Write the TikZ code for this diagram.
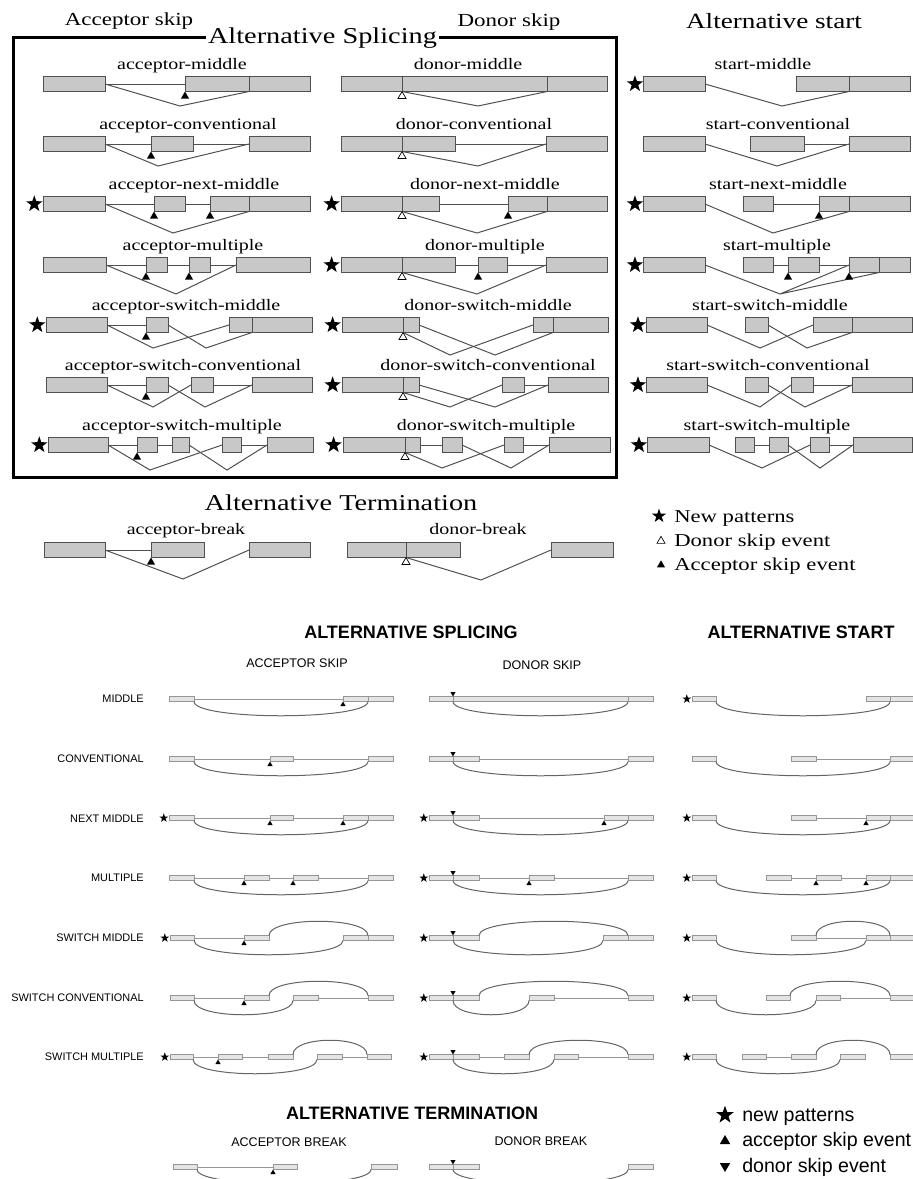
\documentclass[tikz,border=0pt]{standalone}
\usepackage{fontspec}
\setmainfont{Liberation Serif}[FakeStretch=1.25]
\newfontfamily\arial{Liberation Sans}
\usetikzlibrary{shapes.geometric,positioning}

\definecolor{exfill}{RGB}{200,200,200}
\definecolor{exline}{RGB}{80,80,80}
\definecolor{bexfill}{RGB}{228,228,228}
\definecolor{bexline}{RGB}{150,150,150}
\definecolor{barcline}{RGB}{100,100,100}

\tikzset{
  exon/.style={draw=exline, fill=exfill, line width=0.75pt, inner sep=0, outer sep=0, minimum height=11.25pt},
  bexon/.style={draw=bexline, fill=bexfill, line width=0.5pt, inner sep=0, outer sep=0, minimum height=3.75pt},
  intron/.style={draw=exline, line width=0.75pt},
  splice/.style={draw=exline, line width=0.75pt},
  bintron/.style={draw=bexline, line width=0.4pt},
  barc/.style={draw=barcline, line width=0.75pt},
  acc/.style={regular polygon, regular polygon sides=3, fill=black, inner sep=0, outer sep=0, minimum size=7pt, anchor=corner 1},
  don/.style={acc, fill=white, draw=black, line width=0.5pt},
  bacc/.style={acc, minimum size=4.5pt},
  bdon/.style={acc, minimum size=4.5pt, shape border rotate=180},
  newpat/.style={star, star points=5, star point ratio=2.5, fill=black, inner sep=0, outer sep=0, minimum size=13pt},
  bnewpat/.style={newpat, minimum size=7pt},
  boxline/.style={draw=black, line width=2.25pt},
  lbl/.style={font=\fontsize{12}{14}\selectfont, anchor=base, inner sep=0},
  head/.style={font=\fontsize{13.8}{16}\selectfont, anchor=base, inner sep=0},
  title/.style={font=\fontsize{17}{20}\selectfont, inner sep=0},
  leg/.style={font=\fontsize{13.6}{16}\selectfont, anchor=base west, inner sep=0},
  bhead/.style={font=\arial\bfseries\fontsize{13.5}{16}\selectfont, inner sep=0},
  bcol/.style={font=\arial\fontsize{9.4}{11}\selectfont, inner sep=0},
  browlbl/.style={font=\arial\fontsize{8.2}{10}\selectfont, anchor=east, inner sep=0},
  bleg/.style={font=\arial\fontsize{14.7}{17}\selectfont, anchor=base west, inner sep=0}
}

% a row of exons: name/left/right at height y
\newcommand{\exons}[3][exon]{%
  \foreach \nm/\xa/\xb in {#3}{%
    \node[#1, minimum width={(\xb-\xa)*0.75pt}] (\nm) at ({(\xa+\xb)/2},#2) {};}}

\begin{document}
\begin{tikzpicture}[x=0.75pt, y=-0.75pt]
\useasboundingbox (0,0) rectangle (913,1179);

% Khung Alternative Splicing
\draw[boxline] (13,37) rectangle (616,477);
\node[title, fill=white, inner xsep=1.5pt] (splicing) at (322.5,38) {Alternative Splicing};
\node[head] (accskip) at (129,25) {Acceptor skip};
\node[head] (donskip) at (509,26) {Donor skip};
\node[head, font=\fontsize{16.3}{19}\selectfont] (altstart) at (774,28) {Alternative start};

% ---- Acceptor skip ----
\node[lbl] (am) at (182,69.5) {acceptor-middle};
\exons{84}{am1/43/105, am2/185/249, am3/249/310}
\draw[intron] (am1) -- (am2);
\draw[splice] (am1.east) -- (180,106) -- (am2.south east);
\node[acc] (am-a) at (am2.south west) {};

\node[lbl] (ac) at (188,129.5) {acceptor-conventional};
\exons{144}{ac1/43/105, ac2/151/193, ac3/249/310}
\draw[intron] (ac1) -- (ac2) (ac2) -- (ac3);
\draw[splice] (ac1.east) -- (158,166) -- (ac3.west);
\node[acc] (ac-a) at (ac2.south west) {};

\node[lbl] (an) at (194,189.5) {acceptor-next-middle};
\exons{204}{an1/43/105, an2/154/185, an3/210/249, an4/249/310}
\node[newpat, left=3pt of an1] (an0) {};
\draw[intron] (an1) -- (an2) (an2) -- (an3);
\draw[splice] (an1.east) -- (173,233) -- (an3.south east);
\node[acc] (an-a1) at (an2.south west) {};
\node[acc] (an-a2) at (an3.south west) {};

\node[lbl] (au) at (193,250.5) {acceptor-multiple};
\exons{265}{au1/43/106, au2/146/167, au3/189/210, au4/236/310}
\draw[intron] (au1) -- (au2) (au2) -- (au3) (au3) -- (au4);
\draw[splice] (au1.east) -- (176,294) -- (au4.west);
\node[acc] (au-a1) at (au2.south west) {};
\node[acc] (au-a2) at (au3.south west) {};

\node[lbl] (asm) at (186,310.5) {acceptor-switch-middle};
\exons{325}{asm1/46/107, asm2/146/168, asm3/229/252, asm4/252/312}
\node[newpat, left=3pt of asm1] (asm0) {};
\draw[intron] (asm1) -- (asm2);
\draw[splice] (asm1.east) -- (153,348) -- (asm3.west);
\draw[splice] (asm2.east) -- (206,348) -- (asm3.south east);
\node[acc] (asm-a) at (asm2.south west) {};

\node[lbl] (asc) at (183,370.5) {acceptor-switch-conventional};
\exons{385}{asc1/46/107, asc2/146/168, asc3/191/213, asc4/252/312}
\draw[intron] (asc1) -- (asc2) (asc3) -- (asc4);
\draw[splice] (asc1.east) -- (153,407) -- (asc3.west);
\draw[splice] (asc2.east) -- (205,407) -- (asc4.west);
\node[acc] (asc-a) at (asc2.south west) {};

\node[lbl] (asu) at (182,430.5) {acceptor-switch-multiple};
\exons{445}{asu1/48/108, asu2/137/157, asu3/172/189, asu4/222/241, asu5/267/313}
\node[newpat, left=3pt of asu1] (asu0) {};
\draw[intron] (asu1) -- (asu2) (asu2) -- (asu3) (asu4) -- (asu5);
\draw[splice] (asu1.east) -- (150,470) -- (asu4.west);
\draw[splice] (asu3.east) -- (227,470) -- (asu5.west);
\node[acc] (asu-a) at (asu2.south west) {};

% ---- Donor skip ----
\node[lbl] (dm) at (468,69.5) {donor-middle};
\exons{84}{dm1/341/402, dm2/402/547, dm3/547/607}
\draw[splice] (dm1.south east) -- (478,106) -- (dm2.south east);
\node[don] (dm-d) at (dm1.south east) {};

\node[lbl] (dc) at (474,129.5) {donor-conventional};
\exons{144}{dc1/341/402, dc2/402/455, dc3/546/607}
\draw[intron] (dc2) -- (dc3);
\draw[splice] (dc1.south east) -- (478,166) -- (dc3.west);
\node[don] (dc-d) at (dc1.south east) {};

\node[lbl] (dn) at (485,189.5) {donor-next-middle};
\exons{204}{dn1/341/402, dn2/402/439, dn3/508/547, dn4/547/607}
\node[newpat, left=3.5pt of dn1] (dn0) {};
\draw[intron] (dn2) -- (dn3);
\draw[splice] (dn1.south east) -- (477,233) -- (dn3.south east);
\node[don] (dn-d) at (dn1.south east) {};
\node[acc] (dn-a) at (dn3.south west) {};

\node[lbl] (du) at (485,250.5) {donor-multiple};
\exons{265}{du1/341/402, du2/402/455, du3/478/507, du4/546/607}
\node[newpat, left=3.5pt of du1] (du0) {};
\draw[intron] (du2) -- (du3) (du3) -- (du4);
\draw[splice] (du1.south east) -- (477,294) -- (du4.west);
\node[don] (du-d) at (du1.south east) {};
\node[acc] (du-a) at (du3.south west) {};

\node[lbl] (dsm) at (488,310.5) {donor-switch-middle};
\exons{325}{dsm1/342/403, dsm2/403/419, dsm3/533/553, dsm4/553/608}
\node[newpat, left=3.5pt of dsm1] (dsm0) {};
\draw[splice] (dsm1.south east) -- (450,355) -- (dsm3.west);
\draw[splice] (dsm2.east) -- (495,355) -- (dsm3.south east);
\node[don] (dsm-d) at (dsm1.south east) {};

\node[lbl] (dsc) at (488,370.5) {donor-switch-conventional};
\exons{385}{dsc1/342/403, dsc2/403/419, dsc3/502/524, dsc4/548/608}
\node[newpat, left=3.5pt of dsc1] (dsc0) {};
\draw[intron] (dsc3) -- (dsc4);
\draw[splice] (dsc1.south east) -- (450,407) -- (dsc3.west);
\draw[splice] (dsc2.east) -- (495,407) -- (dsc4.west);
\node[don] (dsc-d) at (dsc1.south east) {};

\node[lbl] (dsu) at (486,430.5) {donor-switch-multiple};
\exons{445}{dsu1/343/405, dsu2/405/420, dsu3/442/462, dsu4/504/523, dsu5/549/610}
\node[newpat, left=3.5pt of dsu1] (dsu0) {};
\draw[intron] (dsu2) -- (dsu3) (dsu4) -- (dsu5);
\draw[splice] (dsu1.south east) -- (442,468) -- (dsu4.west);
\draw[splice] (dsu3.east) -- (511,468) -- (dsu5.west);
\node[don] (dsu-d) at (dsu1.south east) {};

% ---- Alternative start ----
\node[lbl] (sm) at (763,69.5) {start-middle};
\exons{84}{sm1/643/705, sm2/796/849, sm3/849/910}
\node[newpat, left=2.5pt of sm1] (sm0) {};
\draw[splice] (sm1.east) -- (782,106) -- (sm2.south east);

\node[lbl] (sc) at (778,129.5) {start-conventional};
\exons{144}{sc1/643/705, sc2/750/804, sc3/849/910}
\draw[intron] (sc2) -- (sc3);
\draw[splice] (sc1.east) -- (777,166) -- (sc3.west);

\node[lbl] (sn) at (778,189.5) {start-next-middle};
\exons{204}{sn1/643/705, sn2/743/773, sn3/819/849, sn4/849/910}
\node[newpat, left=2.5pt of sn1] (sn0) {};
\draw[intron] (sn2) -- (sn3);
\draw[splice] (sn1.east) -- (773,233) -- (sn3.south east);
\node[acc] (sn-a) at (sn3.south west) {};

\node[lbl] (su) at (777,250.5) {start-multiple};
\exons{265}{su1/643/705, su2/743/773, su3/788/819, su4/849/879, su5/879/910}
\node[newpat, left=2.5pt of su1] (su0) {};
\draw[intron] (su2) -- (su3) (su3) -- (su4);
\coordinate (su-v) at (780,294);
\draw[splice] (su1.east) -- (su-v) -- (su4.west) (su-v) -- (su4.south east);
\node[acc] (su-a1) at (su3.south west) {};
\node[acc] (su-a2) at (su4.south west) {};

\node[lbl] (ssm) at (770,310.5) {start-switch-middle};
\exons{325}{ssm1/646/707, ssm2/745/768, ssm3/813/852, ssm4/852/912}
\node[newpat, left=2.5pt of ssm1] (ssm0) {};
\draw[splice] (ssm1.east) -- (760,348) -- (ssm3.west);
\draw[splice] (ssm2.east) -- (807,348) -- (ssm3.south east);

\node[lbl] (ssc) at (768,370.5) {start-switch-conventional};
\exons{385}{ssc1/646/707, ssc2/745/768, ssc3/791/813, ssc4/852/912}
\node[newpat, left=2.5pt of ssc1] (ssc0) {};
\draw[intron] (ssc3) -- (ssc4);
\draw[splice] (ssc1.east) -- (760,407) -- (ssc3.west);
\draw[splice] (ssc2.east) -- (805,407) -- (ssc4.west);

\node[lbl] (ssu) at (767,430.5) {start-switch-multiple};
\exons{445}{ssu1/647/709, ssu2/735/754, ssu3/769/788, ssu4/810/829, ssu5/853/912}
\node[newpat, left=2.5pt of ssu1] (ssu0) {};
\draw[intron] (ssu2) -- (ssu3) (ssu4) -- (ssu5);
\draw[splice] (ssu1.east) -- (762,468) -- (ssu4.west);
\draw[splice] (ssu3.east) -- (820,468) -- (ssu5.west);

% ---- Alternative Termination ----
\node[title, anchor=base] (term) at (341,510) {Alternative Termination};
\node[lbl] (ab) at (186,534) {acceptor-break};
\exons{550}{ab1/44/105, ab2/151/204, ab3/249/310}
\draw[intron] (ab1) -- (ab2);
\draw[splice] (ab1.east) -- (183,579) -- (ab3.west);
\node[acc] (ab-a) at (ab2.south west) {};
\node[lbl] (db) at (478,534) {donor-break};
\exons{550}{db1/347/406, db2/406/460, db3/551/613}
\draw[splice] (db1.south east) -- (481,580) -- (db3.west);
\node[don] (db-d) at (db1.south east) {};

% Chu thich
\node[newpat, minimum size=11pt] (lg1) at (659,516) {};
\node[leg] (lgt1) at (674,522) {New patterns};
\node[don, anchor=center] (lg2) at (661,541) {};
\node[leg] (lgt2) at (674,546) {Donor skip event};
\node[acc, anchor=center] (lg3) at (661,565) {};
\node[leg] (lgt3) at (674,570) {Acceptor skip event};

% ======== lower figure ========
\node[bhead] (bsplice) at (411,632) {ALTERNATIVE SPLICING};
\node[bhead] (bstart) at (801,632) {ALTERNATIVE START};
\node[bcol] (baskip) at (297,663) {ACCEPTOR SKIP};
\node[bcol] (bdskip) at (542,665) {DONOR SKIP};
\foreach \t [count=\i] in {MIDDLE,CONVENTIONAL,NEXT MIDDLE,MULTIPLE,SWITCH MIDDLE,SWITCH CONVENTIONAL,SWITCH MULTIPLE}
  \node[browlbl] (brow\i) at (144,{699+59.7*(\i-1)}) {\t};

% acceptor skip
\exons[bexon]{699}{bam1/169/194, bam2/343/368, bam3/368/393}
\draw[bintron] (bam1) -- (bam2);
\draw[barc] (bam1.south east) .. controls +(0,19) and +(0,19) .. (bam2.south east);
\node[bacc] (bam-a) at (bam2.south west) {};

\exons[bexon]{759}{bac1/169/194, bac2/270/293, bac3/368/393}
\draw[bintron] (bac1) -- (bac2) (bac2) -- (bac3);
\draw[barc] (bac1.south east) .. controls +(0,19) and +(0,19) .. (bac3.south west);
\node[bacc] (bac-a) at (bac2.south west) {};

\exons[bexon]{818}{ban1/169/194, ban2/270/293, ban3/343/368, ban4/368/393}
\node[bnewpat, left=2pt of ban1] (ban0) {};
\draw[bintron] (ban1) -- (ban2) (ban2) -- (ban3);
\draw[barc] (ban1.south east) .. controls +(0,19) and +(0,19) .. (ban3.south east);
\node[bacc] (ban-a1) at (ban2.south west) {};
\node[bacc] (ban-a2) at (ban3.south west) {};

\exons[bexon]{878}{bau1/169/194, bau2/244/269, bau3/293/318, bau4/368/393}
\draw[bintron] (bau1) -- (bau2) (bau2) -- (bau3) (bau3) -- (bau4);
\draw[barc] (bau1.south east) .. controls +(0,19) and +(0,19) .. (bau4.south west);
\node[bacc] (bau-a1) at (bau2.south west) {};
\node[bacc] (bau-a2) at (bau3.south west) {};

\exons[bexon]{938}{basm1/170/194, basm2/244/269, basm3/343/368, basm4/368/393}
\node[bnewpat, left=2pt of basm1] (basm0) {};
\draw[bintron] (basm1) -- (basm2);
\draw[barc] (basm1.south east) .. controls +(0,19) and +(0,19) .. (basm3.south west);
\draw[barc] (basm2.north east) .. controls +(0,-19) and +(0,-19) .. (basm3.north east);
\node[bacc] (basm-a) at (basm2.south west) {};

\exons[bexon]{998}{basc1/170/194, basc2/244/269, basc3/293/318, basc4/368/393}
\draw[bintron] (basc1) -- (basc2) (basc3) -- (basc4);
\draw[barc] (basc1.south east) .. controls +(0,19) and +(0,19) .. (basc3.south west);
\draw[barc] (basc2.north east) .. controls +(0,-19) and +(0,-19) .. (basc4.north west);
\node[bacc] (basc-a) at (basc2.south west) {};

\exons[bexon]{1057}{basu1/170/193, basu2/218/242, basu3/268/293, basu4/317/342, basu5/367/391}
\node[bnewpat, left=2pt of basu1] (basu0) {};
\draw[bintron] (basu1) -- (basu2) (basu2) -- (basu3) (basu4) -- (basu5);
\draw[barc] (basu1.south east) .. controls +(0,19) and +(0,19) .. (basu4.south west);
\draw[barc] (basu3.north east) .. controls +(0,-19) and +(0,-19) .. (basu5.north west);
\node[bacc] (basu-a) at (basu2.south west) {};

% donor skip
\exons[bexon]{699}{bdm1/429/453, bdm2/453/628, bdm3/628/653}
\draw[barc] (bdm1.south east) .. controls +(0,19) and +(0,19) .. (bdm2.south east);
\node[bdon] (bdm-d) at (bdm1.north east) {};

\exons[bexon]{759}{bdc1/429/453, bdc2/453/479, bdc3/628/653}
\draw[bintron] (bdc2) -- (bdc3);
\draw[barc] (bdc1.south east) .. controls +(0,19) and +(0,19) .. (bdc3.south west);
\node[bdon] (bdc-d) at (bdc1.north east) {};

\exons[bexon]{818}{bdn1/429/453, bdn2/453/479, bdn3/604/628, bdn4/628/653}
\node[bnewpat, left=2pt of bdn1] (bdn0) {};
\draw[bintron] (bdn2) -- (bdn3);
\draw[barc] (bdn1.south east) .. controls +(0,19) and +(0,19) .. (bdn3.south east);
\node[bdon] (bdn-d) at (bdn1.north east) {};
\node[bacc] (bdn-a) at (bdn3.south west) {};

\exons[bexon]{878}{bdu1/429/453, bdu2/453/479, bdu3/529/554, bdu4/628/653}
\node[bnewpat, left=2pt of bdu1] (bdu0) {};
\draw[bintron] (bdu2) -- (bdu3) (bdu3) -- (bdu4);
\draw[barc] (bdu1.south east) .. controls +(0,19) and +(0,19) .. (bdu4.south west);
\node[bdon] (bdu-d) at (bdu1.north east) {};
\node[bacc] (bdu-a) at (bdu3.south west) {};

\exons[bexon]{938}{bdsm1/429/453, bdsm2/453/479, bdsm3/603/628, bdsm4/628/653}
\node[bnewpat, left=2pt of bdsm1] (bdsm0) {};
\draw[barc] (bdsm1.south east) .. controls +(0,19) and +(0,19) .. (bdsm3.south west);
\draw[barc] (bdsm2.north east) .. controls +(0,-19) and +(0,-19) .. (bdsm3.north east);
\node[bdon] (bdsm-d) at (bdsm1.north east) {};

\exons[bexon]{998}{bdsc1/429/453, bdsc2/453/479, bdsc3/529/554, bdsc4/628/653}
\node[bnewpat, left=2pt of bdsc1] (bdsc0) {};
\draw[bintron] (bdsc3) -- (bdsc4);
\draw[barc] (bdsc1.south east) .. controls +(0,19) and +(0,19) .. (bdsc3.south west);
\draw[barc] (bdsc2.north east) .. controls +(0,-19) and +(0,-19) .. (bdsc4.north west);
\node[bdon] (bdsc-d) at (bdsc1.north east) {};

\exons[bexon]{1057}{bdsu1/429/453, bdsu2/453/479, bdsu3/504/529, bdsu4/554/578, bdsu5/628/653}
\node[bnewpat, left=2pt of bdsu1] (bdsu0) {};
\draw[bintron] (bdsu2) -- (bdsu3) (bdsu4) -- (bdsu5);
\draw[barc] (bdsu1.south east) .. controls +(0,19) and +(0,19) .. (bdsu4.south west);
\draw[barc] (bdsu3.north east) .. controls +(0,-19) and +(0,-19) .. (bdsu5.north west);
\node[bdon] (bdsu-d) at (bdsu1.north east) {};

% alternative start
\exons[bexon]{699}{bsm1/692/716, bsm2/866/890, bsm3/890/916}
\node[bnewpat, left=2pt of bsm1] (bsm0) {};
\draw[barc] (bsm1.south east) .. controls +(0,19) and +(0,19) .. (bsm2.south east);

\exons[bexon]{759}{bsc1/692/716, bsc2/791/816, bsc3/890/916}
\draw[bintron] (bsc2) -- (bsc3);
\draw[barc] (bsc1.south east) .. controls +(0,19) and +(0,19) .. (bsc3.south west);

\exons[bexon]{818}{bsn1/692/716, bsn2/791/816, bsn3/866/890, bsn4/890/916}
\node[bnewpat, left=2pt of bsn1] (bsn0) {};
\draw[bintron] (bsn2) -- (bsn3);
\draw[barc] (bsn1.south east) .. controls +(0,19) and +(0,19) .. (bsn3.south east);
\node[bacc] (bsn-a) at (bsn3.south west) {};

\exons[bexon]{878}{bsu1/692/716, bsu2/766/791, bsu3/816/841, bsu4/866/890, bsu5/890/916}
\node[bnewpat, left=2pt of bsu1] (bsu0) {};
\draw[bintron] (bsu2) -- (bsu3) (bsu3) -- (bsu4);
\draw[barc] (bsu1.south east) .. controls +(0,19) and +(0,19) .. (bsu4.south east);
\node[bacc] (bsu-a1) at (bsu3.south west) {};
\node[bacc] (bsu-a2) at (bsu4.south west) {};

\exons[bexon]{938}{bssm1/692/716, bssm2/791/816, bssm3/866/890, bssm4/890/916}
\node[bnewpat, left=2pt of bssm1] (bssm0) {};
\draw[bintron] (bssm2) -- (bssm3);
\draw[barc] (bssm1.south east) .. controls +(0,19) and +(0,19) .. (bssm3.south west);
\draw[barc] (bssm2.north east) .. controls +(0,-19) and +(0,-19) .. (bssm3.north east);

\exons[bexon]{998}{bssc1/692/716, bssc2/766/790, bssc3/816/840, bssc4/890/916}
\node[bnewpat, left=2pt of bssc1] (bssc0) {};
\draw[bintron] (bssc3) -- (bssc4);
\draw[barc] (bssc1.south east) .. controls +(0,19) and +(0,19) .. (bssc3.south west);
\draw[barc] (bssc2.north east) .. controls +(0,-19) and +(0,-19) .. (bssc4.north west);

\exons[bexon]{1057}{bssu1/692/716, bssu2/742/766, bssu3/791/816, bssu4/840/865, bssu5/890/916}
\node[bnewpat, left=2pt of bssu1] (bssu0) {};
\draw[bintron] (bssu2) -- (bssu3);
\draw[barc] (bssu1.south east) .. controls +(0,19) and +(0,19) .. (bssu4.south west);
\draw[barc] (bssu3.north east) .. controls +(0,-19) and +(0,-19) .. (bssu5.north west);

% alternative termination
\node[bhead] (bterm) at (412,1113) {ALTERNATIVE TERMINATION};
\node[bcol] (babrk) at (289,1142) {ACCEPTOR BREAK};
\node[bcol] (bdbrk) at (541,1141) {DONOR BREAK};
\exons[bexon]{1167}{bab1/173/197, bab2/273/297, bab3/371/397}
\draw[bintron] (bab1) -- (bab2);
\draw[barc] (bab1.south east) .. controls +(0,19) and +(0,19) .. (bab3.south west);
\node[bacc] (bab-a) at (bab2.south west) {};
\exons[bexon]{1167}{bdb1/429/453, bdb2/453/479, bdb3/628/653}
\draw[barc] (bdb1.south east) .. controls +(0,19) and +(0,19) .. (bdb3.south west);
\node[bdon] (bdb-d) at (bdb1.north east) {};

% chu thich
\node[newpat, minimum size=14pt] (blg1) at (725,1115) {};
\node[bleg] (blgt1) at (742,1121) {new patterns};
\node[acc, anchor=center, minimum size=9pt] (blg2) at (725,1141) {};
\node[bleg] (blgt2) at (742,1146) {acceptor skip event};
\node[acc, anchor=center, minimum size=9pt, shape border rotate=180] (blg3) at (725,1166) {};
\node[bleg] (blgt3) at (742,1172) {donor skip event};
\end{tikzpicture}
\end{document}
